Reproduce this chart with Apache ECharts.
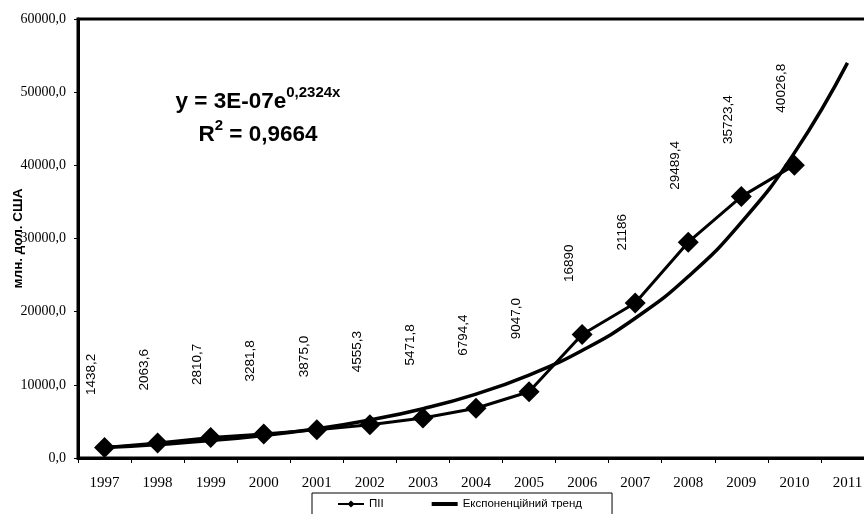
<!DOCTYPE html>
<html>
<head>
<meta charset="utf-8">
<script src="https://cdn.jsdelivr.net/npm/echarts@6/dist/echarts.min.js"></script>
<style>
  html, body { margin: 0; padding: 0; background: #fff; }
  #chart { width: 864px; height: 514px; }
</style>
</head>
<body>
<div id="chart"></div>
<script>
// Years on the category axis
const years = ['1997', '1998', '1999', '2000', '2001', '2002', '2003', '2004',
               '2005', '2006', '2007', '2008', '2009', '2010', '2011'];

// FDI inflows, mln USD
const fdi = [1438.2, 2063.6, 2810.7, 3281.8, 3875.0, 4555.3, 5471.8, 6794.4,
             9047.0, 16890, 21186, 29489.4, 35723.4, 40026.8];

// Decimal places shown in each value label
const fdiDecimals = [1, 1, 1, 1, 1, 1, 1, 1, 1, 0, 0, 1, 1, 1];

// Exponential trend line values per year
const trend = [1420, 1840, 2380, 3090, 4000, 5200, 6740, 8740, 11340,
               14700, 19100, 24800, 32200, 41700, 54000];

// Y axis tick values
const yTicks = [0, 10000, 20000, 30000, 40000, 50000, 60000];

const seriesNames = ['ПІІ', 'Експоненційний тренд'];
const yAxisTitle = 'млн. дол. США';

const SANS = '"Liberation Sans", Arial, sans-serif';
const SERIF = '"Liberation Serif", "Times New Roman", serif';

// plain bar icon for the trend entry (bounding points keep it thin inside the 26x9 box)
const TREND_ICON = 'path://M0,0M0,2.5L26,2.5L26,6.5L0,6.5ZM26,9';

const chart = echarts.init(document.getElementById('chart'), null, { renderer: 'canvas' });

chart.setOption({
  animation: false,
  backgroundColor: '#fff',
  grid: {
    left: 78, top: 19, right: -10, bottom: 56,
    containLabel: false,
    outerBoundsMode: 'none',
    show: true, borderColor: '#000', borderWidth: 3, backgroundColor: 'transparent'
  },
  legend: {
    data: [
      { name: seriesNames[0] },
      { name: seriesNames[1], icon: TREND_ICON }
    ],
    left: 312, top: 493,
    orient: 'horizontal',
    itemWidth: 26, itemHeight: 9, itemGap: 48,
    padding: [5, 30, 20, 25],
    borderColor: '#000', borderWidth: 1,
    textStyle: { fontFamily: SANS, fontSize: 11.5, color: '#000' }
  },
  xAxis: {
    type: 'category',
    data: years,
    boundaryGap: true,
    axisLine: { lineStyle: { color: '#000', width: 3 } },
    axisTick: { show: true, interval: 0, length: 5, lineStyle: { color: '#000', width: 1 } },
    axisLabel: { interval: 0, margin: 18, fontFamily: SERIF, fontSize: 15, color: '#000' },
    splitLine: { show: false }
  },
  yAxis: {
    type: 'value',
    min: yTicks[0], max: yTicks[yTicks.length - 1], interval: yTicks[1] - yTicks[0],
    name: yAxisTitle,
    nameLocation: 'middle',
    nameGap: 53,
    nameMoveOverlap: false,
    nameTextStyle: { fontFamily: SANS, fontSize: 13.5, fontWeight: 'bold', color: '#000' },
    axisLine: { show: true, lineStyle: { color: '#000', width: 3 } },
    axisTick: { show: true, length: 4, lineStyle: { color: '#000', width: 1 } },
    axisLabel: {
      margin: 12, fontFamily: SERIF, fontSize: 14, color: '#000',
      formatter: v => v.toFixed(1).replace('.', ',')
    },
    splitLine: { show: false }
  },
  series: [
    {
      name: seriesNames[0],
      type: 'line',
      data: fdi,
      symbol: 'diamond',
      symbolSize: 21,
      itemStyle: { color: '#000' },
      lineStyle: { color: '#000', width: 3 },
      z: 3,
      label: {
        show: true,
        position: 'top',
        distance: 42,
        rotate: 90,
        align: 'left',
        verticalAlign: 'middle',
        offset: [0, -13],
        fontFamily: SANS,
        fontSize: 13.5,
        color: '#000',
        formatter: p => p.value.toFixed(fdiDecimals[p.dataIndex]).replace('.', ',')
      }
    },
    {
      name: seriesNames[1],
      type: 'line',
      data: trend,
      symbol: 'none',
      smooth: 0.5,
      itemStyle: { color: '#000' },
      lineStyle: { color: '#000', width: 3.5 },
      z: 2
    }
  ],
  graphic: [
    {
      type: 'text',
      x: 258, y: 85,
      style: {
        text: '{m|y = 3E-07e}{s|0,2324x}\n{m|R}{s|2}{m| = 0,9664}',
        align: 'center',
        verticalAlign: 'top',
        fill: '#000',
        rich: {
          m: { fontFamily: SANS, fontSize: 22.5, fontWeight: 'bold', lineHeight: 33, fill: '#000' },
          s: { fontFamily: SANS, fontSize: 15, fontWeight: 'bold', verticalAlign: 'top', lineHeight: 24, fill: '#000' }
        }
      }
    }
  ]
});
</script>
</body>
</html>
